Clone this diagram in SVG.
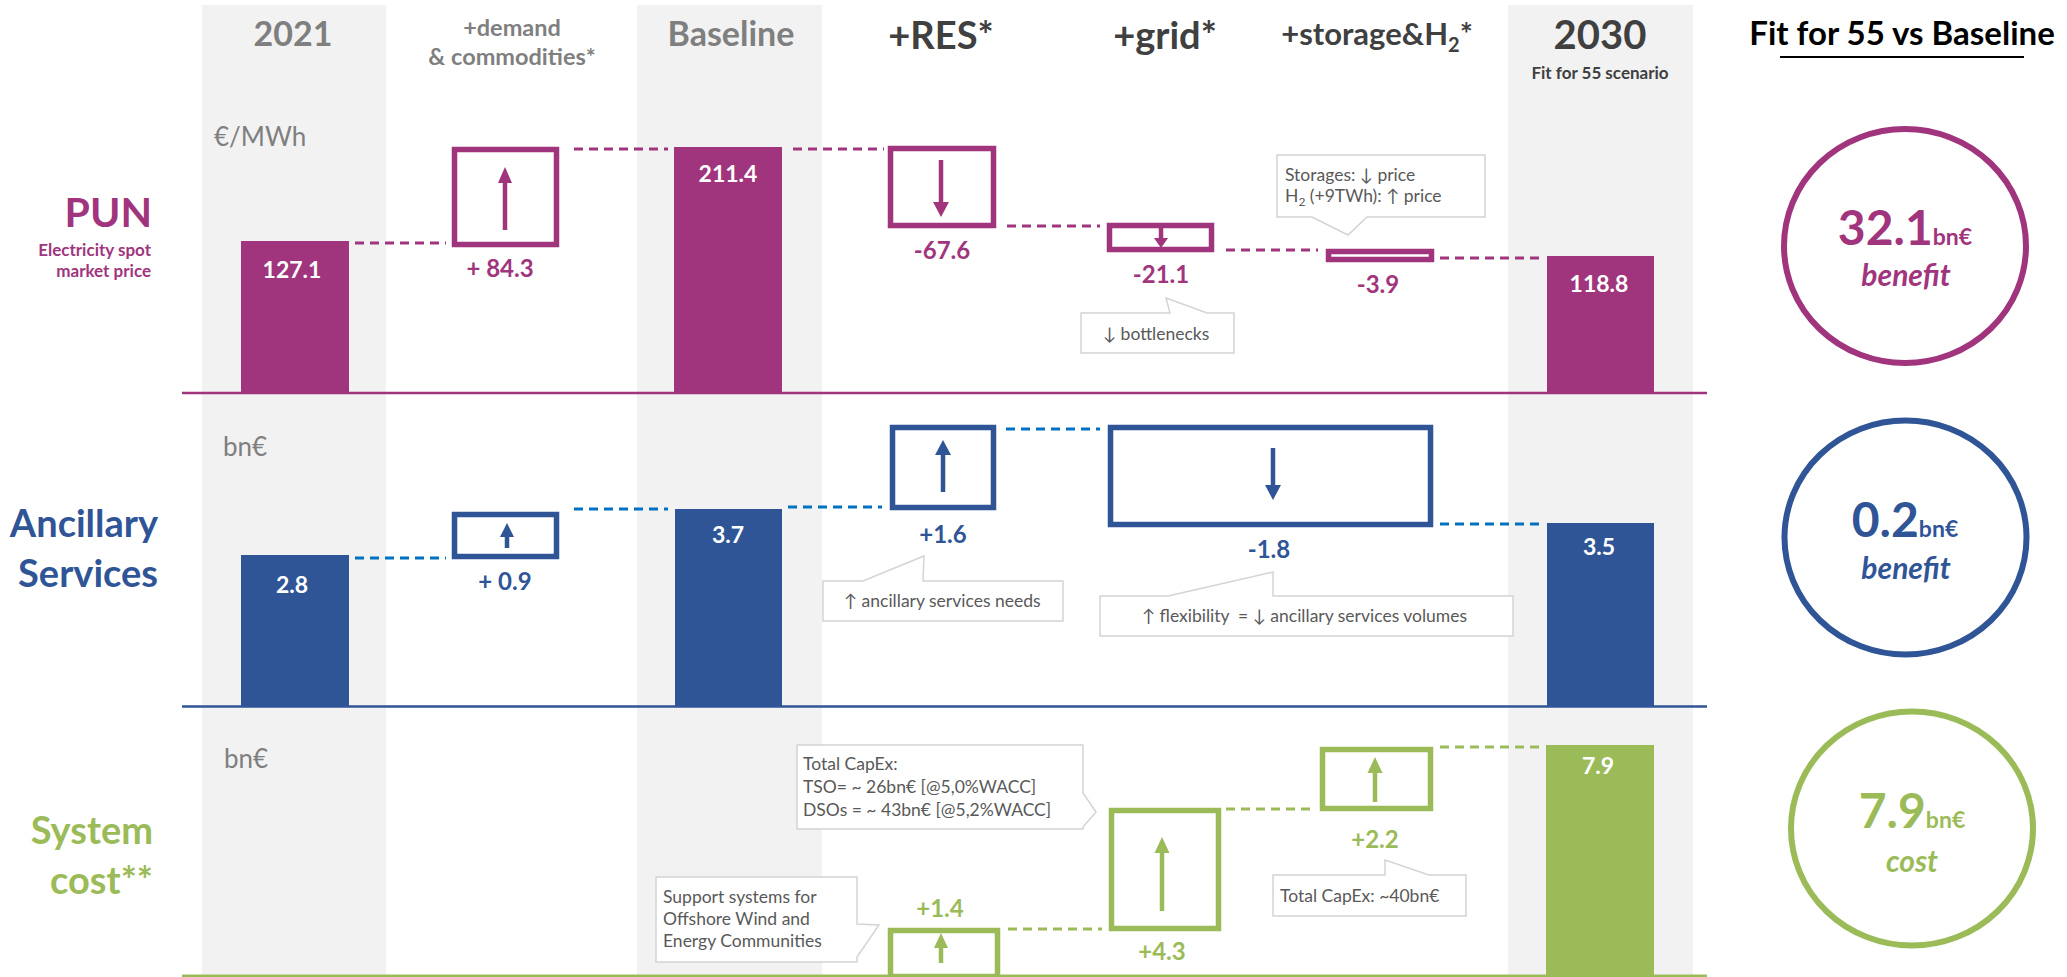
<svg xmlns="http://www.w3.org/2000/svg" width="2067" height="977" viewBox="0 0 2067 977">
<style>
text{font-family:Lato,"Liberation Sans",sans-serif}
.col{fill:#f2f2f2}
.hg{fill:#7f7f7f;font-weight:bold;text-anchor:middle}
.hd{fill:#404040;font-weight:bold;text-anchor:middle}
.unit{fill:#7f7f7f;font-size:26px}
.m{fill:#a0357d}.b{fill:#2f5597}.g{fill:#9bbb59}
.rl{font-weight:bold;text-anchor:end}
.bl{fill:#fff;font-weight:bold;font-size:23px;text-anchor:middle}
.vl{font-weight:bold;font-size:24px;text-anchor:middle}
.bm{fill:#fff;stroke:#a0357d;stroke-width:5.5}
.bb{fill:#fff;stroke:#2f5597;stroke-width:5.5}
.bg{fill:#fff;stroke:#9bbb59;stroke-width:5.5}
.am{stroke:#a0357d;stroke-width:4.5}
.ab{stroke:#2f5597;stroke-width:4.5}
.ag{stroke:#9bbb59;stroke-width:4.5}
.dm{stroke:#a0357d;stroke-width:3;stroke-dasharray:9 6;fill:none}
.db{stroke:#0070c0;stroke-width:3;stroke-dasharray:9 6;fill:none}
.dg{stroke:#9bbb59;stroke-width:3;stroke-dasharray:9 6;fill:none}
.co{fill:#fff;stroke:#d4d4d4;stroke-width:1.5}
.ct{fill:#595959;font-size:17.5px}
.cir{fill:#fff;stroke-width:6}
.big{font-weight:bold;font-size:48px}
.sm{font-weight:bold;font-size:23px}
.it{font-weight:bold;font-style:italic;font-size:30px;text-anchor:middle}
</style>

<g id="columns">
<rect class="col" x="202" y="5" width="184" height="972"/>
<rect class="col" x="637" y="5" width="185" height="972"/>
<rect class="col" x="1508" y="5" width="185" height="972"/>
</g>

<g id="headers">
<text class="hg" x="293" y="46" font-size="34">2021</text>
<text class="hg" x="512" y="36" font-size="23.5">+demand</text>
<text class="hg" x="512" y="65" font-size="23.5">&amp; commodities*</text>
<text class="hg" x="731" y="46" font-size="34">Baseline</text>
<text class="hd" x="941" y="49" font-size="38">+RES*</text>
<text class="hd" x="1165" y="49" font-size="38">+grid*</text>
<text class="hd" x="1377" y="45" font-size="31">+storage&amp;H<tspan font-size="20" dy="7">2</tspan><tspan dy="-7">*</tspan></text>
<text class="hd" x="1600" y="49" font-size="40">2030</text>
<text class="hd" x="1600" y="79" font-size="17">Fit for 55 scenario</text>
<text x="1902" y="45" font-size="33" font-weight="bold" text-anchor="middle" fill="#000">Fit for 55 vs Baseline</text>
<line x1="1780" y1="57" x2="2024" y2="57" stroke="#000" stroke-width="2"/>
</g>

<g id="row-labels">
<text class="rl m" x="152" y="227" font-size="41">PUN</text>
<text class="rl m" x="151" y="256" font-size="17">Electricity spot</text>
<text class="rl m" x="151" y="277" font-size="17">market price</text>
<text class="unit" x="214" y="146">€/MWh</text>
<text class="rl b" x="158" y="537" font-size="38">Ancillary</text>
<text class="rl b" x="158" y="587" font-size="38">Services</text>
<text class="unit" x="223" y="456">bn€</text>
<text class="rl g" x="153" y="844" font-size="38">System</text>
<text class="rl g" x="153" y="894" font-size="38">cost**</text>
<text class="unit" x="224" y="768">bn€</text>
</g>

<g id="axes">
<line x1="182" y1="393" x2="1707" y2="393" stroke="#a0357d" stroke-width="2.5"/>
<line x1="182" y1="706.5" x2="1707" y2="706.5" stroke="#2f5597" stroke-width="2.5"/>
<line x1="182" y1="976" x2="1707" y2="976" stroke="#9bbb59" stroke-width="3"/>
</g>

<g id="connectors">
<line class="dm" x1="355" y1="243" x2="446" y2="243"/>
<line class="dm" x1="574" y1="149" x2="668" y2="149"/>
<line class="dm" x1="793" y1="149" x2="884" y2="149"/>
<line class="dm" x1="1007" y1="226" x2="1100" y2="226"/>
<line class="dm" x1="1226" y1="250" x2="1318" y2="250"/>
<line class="dm" x1="1440" y1="258" x2="1545" y2="258"/>
<line class="db" x1="355" y1="558" x2="446" y2="558"/>
<line class="db" x1="574" y1="509" x2="668" y2="509"/>
<line class="db" x1="788" y1="507" x2="882" y2="507"/>
<line class="db" x1="1006" y1="429" x2="1100" y2="429"/>
<line class="db" x1="1440" y1="524" x2="1545" y2="524"/>
<line class="dg" x1="1008" y1="929" x2="1102" y2="929"/>
<line class="dg" x1="1226" y1="809" x2="1316" y2="809"/>
<line class="dg" x1="1440" y1="747" x2="1545" y2="747"/>
</g>

<g id="pun-2021"><rect class="m" x="241" y="241" width="108" height="151"/><text class="bl" x="292" y="278">127.1</text></g>
<g id="pun-demand">
<rect class="bm" x="454.5" y="149.5" width="102" height="95"/>
<line class="am" x1="505" y1="230" x2="505" y2="180"/><polygon class="m" points="498,183 512,183 505,167"/>
<text class="vl m" x="500" y="277">+ 84.3</text></g>
<g id="pun-baseline"><rect class="m" x="674" y="147" width="108" height="245"/><text class="bl" x="728" y="182">211.4</text></g>
<g id="pun-res">
<rect class="bm" x="890.5" y="148.5" width="103" height="77"/>
<line class="am" x1="941" y1="160" x2="941" y2="205"/><polygon class="m" points="933,202 949,202 941,217"/>
<text class="vl m" x="942" y="259">-67.6</text></g>
<g id="pun-grid">
<rect class="bm" x="1109.5" y="225.5" width="102" height="24"/>
<line class="am" x1="1161" y1="228" x2="1161" y2="240"/><polygon class="m" points="1154,238 1168,238 1161,248"/>
<text class="vl m" x="1161" y="283">-21.1</text></g>
<g id="pun-storage">
<rect class="bm" x="1328.5" y="251.5" width="103" height="8"/>
<text class="vl m" x="1378" y="293">-3.9</text></g>
<g id="pun-2030"><rect class="m" x="1547" y="256" width="107" height="136"/><text class="bl" x="1599" y="292">118.8</text></g>

<g id="as-2021"><rect class="b" x="241" y="555" width="108" height="151"/><text class="bl" x="292" y="593">2.8</text></g>
<g id="as-demand">
<rect class="bb" x="454.5" y="514.5" width="102" height="42"/>
<line class="ab" x1="507" y1="548" x2="507" y2="535"/><polygon class="b" points="500,537 514,537 507,523"/>
<text class="vl b" x="505" y="590">+ 0.9</text></g>
<g id="as-baseline"><rect class="b" x="675" y="509" width="107" height="197"/><text class="bl" x="728" y="543">3.7</text></g>
<g id="as-res">
<rect class="bb" x="892.5" y="427.5" width="101" height="80"/>
<line class="ab" x1="943" y1="492" x2="943" y2="452"/><polygon class="b" points="935,455 951,455 943,440"/>
<text class="vl b" x="943" y="543">+1.6</text></g>
<g id="as-grid-storage">
<rect class="bb" x="1110.5" y="427.5" width="320" height="97"/>
<line class="ab" x1="1273" y1="448" x2="1273" y2="488"/><polygon class="b" points="1265,485 1281,485 1273,500"/>
<text class="vl b" x="1269" y="558">-1.8</text></g>
<g id="as-2030"><rect class="b" x="1547" y="523" width="107" height="183"/><text class="bl" x="1599" y="555">3.5</text></g>

<g id="sc-res">
<rect class="bg" x="890.5" y="930.5" width="107" height="46"/>
<line class="ag" x1="941" y1="963" x2="941" y2="945"/><polygon class="g" points="934,948 948,948 941,933"/>
<text class="vl g" x="940" y="917">+1.4</text></g>
<g id="sc-grid">
<rect class="bg" x="1111.5" y="810.5" width="107" height="118"/>
<line class="ag" x1="1162" y1="911" x2="1162" y2="850"/><polygon class="g" points="1154.5,853 1169.5,853 1162,837"/>
<text class="vl g" x="1162" y="960">+4.3</text></g>
<g id="sc-storage">
<rect class="bg" x="1322.5" y="749.5" width="108" height="59"/>
<line class="ag" x1="1375" y1="802" x2="1375" y2="770"/><polygon class="g" points="1367.5,773 1382.5,773 1375,757"/>
<text class="vl g" x="1375" y="848">+2.2</text></g>
<g id="sc-2030"><rect class="g" x="1546" y="745" width="108" height="231"/><text class="bl" x="1598" y="774">7.9</text></g>

<g id="callout-bottlenecks">
<path class="co" d="M1081,313 H1170 L1166,298 L1207,313 H1234 V353 H1081 Z"/>
<text class="ct" x="1103" y="340">↓ bottlenecks</text></g>
<g id="callout-storages">
<path class="co" d="M1277,155 H1485 V217 H1367 L1348,235 L1312,217 H1277 Z"/>
<text class="ct" x="1285" y="181">Storages: ↓ price</text>
<text class="ct" x="1285" y="202">H<tspan font-size="12" dy="4">2</tspan><tspan dy="-4"> (+9TWh): ↑ price</tspan></text></g>
<g id="callout-ancillary">
<path class="co" d="M823,581 H863 L924,556 L923,581 H1063 V621 H823 Z"/>
<text class="ct" x="844" y="607">↑ ancillary services needs</text></g>
<g id="callout-flexibility">
<path class="co" d="M1100,596 H1168 L1273,572 V596 H1513 V636 H1100 Z"/>
<text class="ct" x="1142" y="622" xml:space="preserve">↑ flexibility  = ↓ ancillary services volumes</text></g>
<g id="callout-capex-grid">
<path class="co" d="M797,745 H1083 V793 L1096,812 L1083,827 V829 H797 Z"/>
<text class="ct" x="803" y="770">Total CapEx:</text>
<text class="ct" x="803" y="793">TSO= ~ 26bn€ [@5,0%WACC]</text>
<text class="ct" x="803" y="816">DSOs = ~ 43bn€ [@5,2%WACC]</text></g>
<g id="callout-support">
<path class="co" d="M656,877 H857 V924 L879,925 L857,957 V962 H656 Z"/>
<text class="ct" x="663" y="903">Support systems for</text>
<text class="ct" x="663" y="925">Offshore Wind and</text>
<text class="ct" x="663" y="947">Energy Communities</text></g>
<g id="callout-capex-storage">
<path class="co" d="M1273,875 H1385 V860 L1429,875 H1466 V916 H1273 Z"/>
<text class="ct" x="1280" y="902">Total CapEx: ~40bn€</text></g>

<g id="summary-pun">
<ellipse class="cir" cx="1905" cy="246" rx="121" ry="117" stroke="#a0357d"/>
<text class="m" x="1905" y="245" text-anchor="middle"><tspan class="big">32.1</tspan><tspan class="sm">bn€</tspan></text>
<text class="it m" x="1906" y="286">benefit</text></g>
<g id="summary-as">
<ellipse class="cir" cx="1905.5" cy="537.5" rx="121" ry="117" stroke="#2f5597"/>
<text class="b" x="1905" y="537" text-anchor="middle"><tspan class="big">0.2</tspan><tspan class="sm">bn€</tspan></text>
<text class="it b" x="1906" y="579">benefit</text></g>
<g id="summary-sc">
<ellipse class="cir" cx="1912" cy="828.5" rx="121" ry="117" stroke="#9bbb59"/>
<text class="g" x="1912" y="828" text-anchor="middle"><tspan class="big">7.9</tspan><tspan class="sm">bn€</tspan></text>
<text class="it g" x="1912" y="872">cost</text></g>
</svg>
